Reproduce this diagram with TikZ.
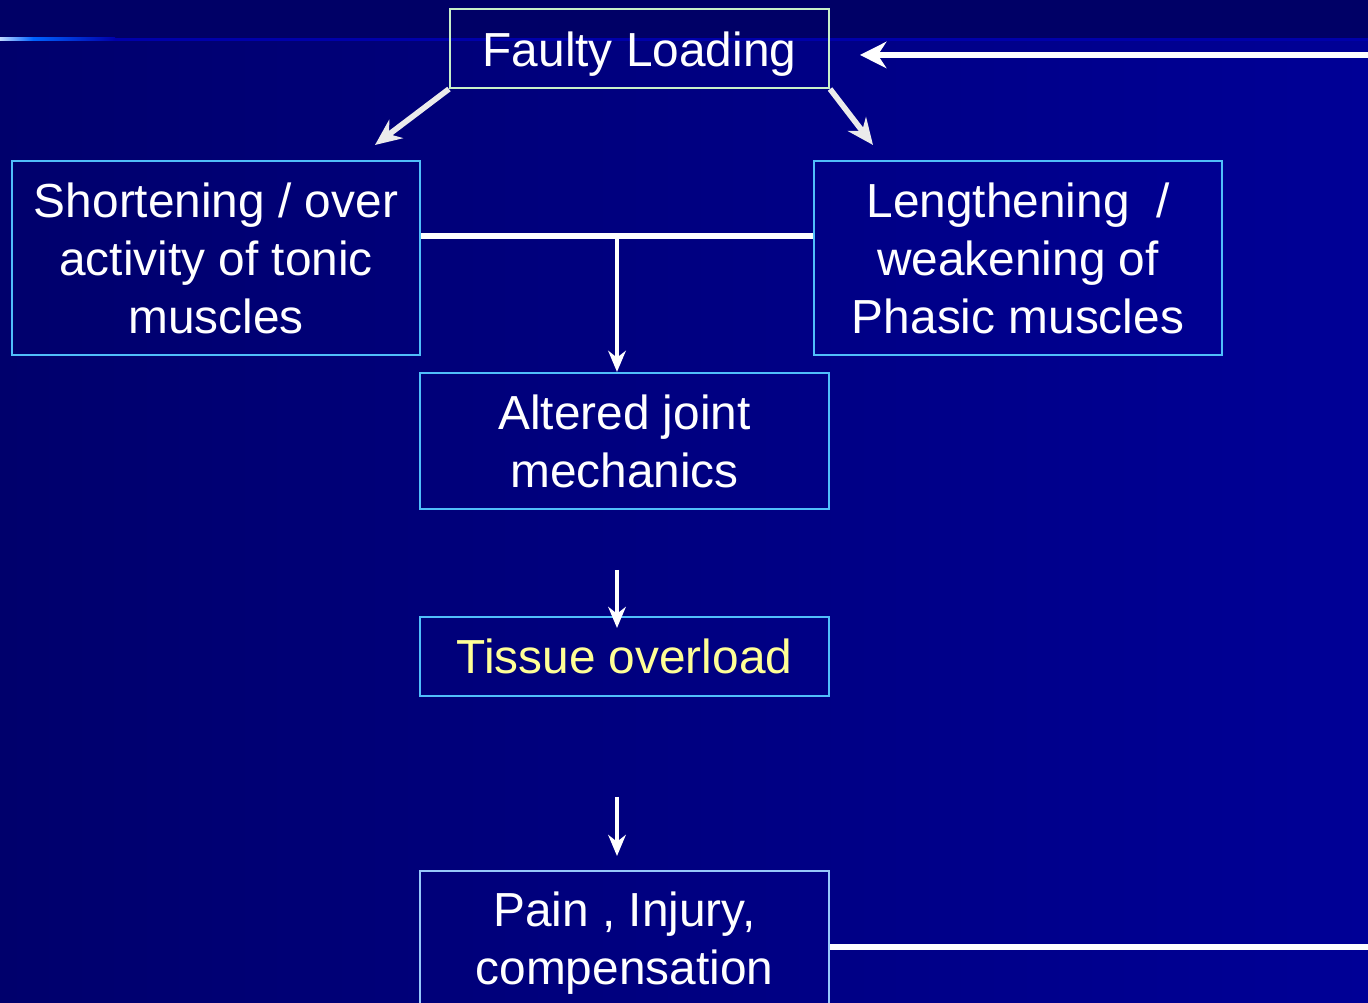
\documentclass[tikz,border=0pt]{standalone}
\usepackage{fontspec}
\setmainfont{Liberation Sans}
\usetikzlibrary{arrows.meta}

\definecolor{bgLeft}{RGB}{0,0,108}
\definecolor{bgRight}{RGB}{0,0,150}
\definecolor{bgTop}{RGB}{0,0,102}
\definecolor{bgRule}{RGB}{0,0,170}
\definecolor{ruleHi}{RGB}{0,100,255}
\definecolor{boxBlue}{RGB}{80,190,250}
\definecolor{boxPale}{RGB}{150,200,250}
\definecolor{boxGreen}{RGB}{200,240,200}
\definecolor{textYellow}{RGB}{255,255,150}
\definecolor{arrGray}{RGB}{235,235,235}

\begin{document}
\begin{tikzpicture}[
    flowBox/.style={draw=boxBlue,line width=0.6pt,text=white,align=center,inner sep=0pt,
        font=\fontsize{13.6}{16.5}\selectfont},
    flowArr/.style={-{Stealth[length=6pt,width=5pt]},white,line width=1pt},
    flowDiag/.style={-{Stealth[length=7.5pt,width=6.5pt]},arrGray,line width=1.6pt},
    flowBar/.style={white,line width=1.6pt},
]
% Background
\useasboundingbox (0,0) rectangle (13.68,10.03);
\shade[left color=bgLeft,right color=bgRight] (0,0) rectangle (13.68,10.03);
\fill[bgTop] (0,9.65) rectangle (13.68,10.03);
\fill[bgRule] (0,9.62) rectangle (13.68,9.65);
\shade[left color=white!75!ruleHi,right color=ruleHi] (0,9.62) rectangle (0.33,9.65);
\shade[left color=ruleHi,right color=bgRule] (0.33,9.62) rectangle (1.15,9.65);
% Boxes
\node[flowBox,draw=boxGreen,minimum width=3.79cm,minimum height=0.79cm,text height=13pt,text depth=3pt] (fault) at (6.395,9.545) {Faulty Loading};
\node[flowBox,minimum width=4.08cm,minimum height=1.94cm] (short) at (2.16,7.45) {Shortening / over\\activity of tonic\\muscles};
\node[flowBox,minimum width=4.08cm,minimum height=1.94cm] (length) at (10.18,7.45) {Lengthening~ /\\weakening of\\Phasic muscles};
\node[flowBox,minimum width=4.09cm,minimum height=1.36cm] (alter) at (6.245,5.62) {Altered joint\\mechanics};
\node[flowBox,text=textYellow,minimum width=4.09cm,minimum height=0.79cm] (tissue) at (6.245,3.465) {Tissue overload};
\node[flowBox,draw=boxPale,minimum width=4.09cm,minimum height=1.36cm,text depth=0.6pt] (pain) at (6.245,0.64) {Pain , Injury,\\compensation};
% Split from faulty loading
\coordinate (faultL) at (3.75,8.58);
\coordinate (faultR) at (8.73,8.58);
\draw[flowDiag] (fault.south west) -- (faultL);
\draw[flowDiag] (fault.south east) -- (faultR);
% Join bar
\coordinate (join) at (6.17,7.67);
\draw[flowBar] (short.east |- join) -- (length.west |- join);
\draw[flowArr] (join) -- (join |- alter.north);
% Down the chain
\coordinate (tisTop) at (6.17,4.33);
\coordinate (tisEnd) at (6.17,3.75);
\draw[flowArr] (tisTop) -- (tisEnd);
\coordinate (painTop) at (6.17,2.06);
\coordinate (painEnd) at (6.17,1.47);
\draw[flowArr] (painTop) -- (painEnd);
% Feedback
\coordinate (backR) at (13.68,0.56);
\draw[flowBar] (pain.east |- backR) -- (backR);
\coordinate (backT) at (13.68,9.48);
\coordinate (backEnd) at (8.60,9.48);
\draw[flowBar,-{Stealth[length=7.5pt,width=7.5pt]}] (backT) -- (backEnd);
\end{tikzpicture}
\end{document}
